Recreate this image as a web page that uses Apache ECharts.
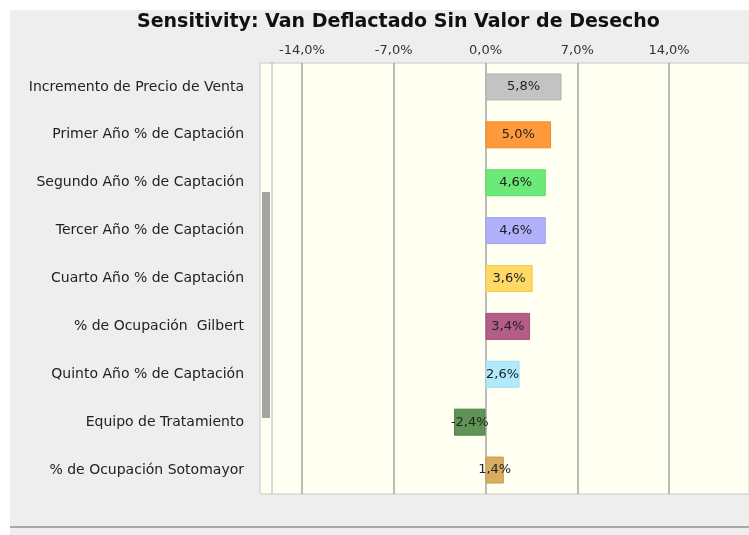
<!DOCTYPE html>
<html>
<head>
<meta charset="utf-8">
<script src="https://cdn.jsdelivr.net/npm/echarts@6/dist/echarts.min.js"></script>
<style>
html,body{margin:0;padding:0;background:#ffffff;}
#chart{width:749px;height:535px;}
</style>
</head>
<body>
<div id="chart"></div>
<script>
const titleText = 'Sensitivity: Van Deflactado Sin Valor de Desecho';
const categories = [
  'Incremento de Precio de Venta',
  'Primer Año % de Captación',
  'Segundo Año % de Captación',
  'Tercer Año % de Captación',
  'Cuarto Año % de Captación',
  '% de Ocupación  Gilbert',
  'Quinto Año % de Captación',
  'Equipo de Tratamiento',
  '% de Ocupación Sotomayor'
];
const values = [5.8, 5.0, 4.6, 4.6, 3.6, 3.4, 2.6, -2.4, 1.4];
const tickValues = [-14, -7, 0, 7, 14];

const barColors = ['#c3c3c3', '#ff9a3c', '#6bea78', '#b0b0fb', '#ffd966', '#b35d87', '#b0eafc', '#5f9456', '#d8ad62'];
const barBorders = ['#b2b2b2', '#f08a2c', '#5cdc6a', '#a0a0ee', '#f2cb55', '#a24f78', '#9fdcee', '#507f48', '#c99d52'];

const fmt = v => v.toFixed(1).replace('.', ',') + '%';
const FONT = '"DejaVu Sans", Verdana, sans-serif';

const chart = echarts.init(document.getElementById('chart'), null, {renderer: 'canvas'});
chart.setOption({
  backgroundColor: '#eeeeee',
  animation: false,
  title: {
    text: titleText,
    left: 132,
    top: 8,
    textStyle: {fontFamily: FONT, fontSize: 19, fontWeight: 'bold', color: '#111'}
  },
  graphic: [
    {type: 'rect', left: 0, top: 0, shape: {width: 749, height: 10}, style: {fill: '#ffffff'}, z: -1},
    {type: 'rect', left: 0, top: 0, shape: {width: 10, height: 535}, style: {fill: '#ffffff'}, z: -1},
    {type: 'rect', left: 10, top: 526, shape: {width: 739, height: 2}, style: {fill: '#a8a8a8'}, z: -1},
    {type: 'line', shape: {x1: 272, y1: 62, x2: 272, y2: 494}, style: {stroke: '#b8b8b8', lineWidth: 1}, z: 10},
    {type: 'rect', shape: {x: 262, y: 192, width: 8, height: 226}, style: {fill: '#a4a4a4'}, z: 10}
  ],
  grid: {
    left: 260, right: 0, top: 63, bottom: 41,
    show: true, backgroundColor: '#fffff2', borderColor: '#c8c8c8', borderWidth: 1
  },
  xAxis: {
    type: 'value',
    position: 'top',
    min: -17.2,
    max: 20.1,
    axisLine: {show: false},
    axisTick: {show: false, customValues: tickValues},
    axisLabel: {
      customValues: tickValues,
      formatter: v => fmt(v),
      fontFamily: FONT, fontSize: 13, color: '#333', margin: 6
    },
    splitLine: {show: true, lineStyle: {color: '#a4a4a4', width: 1.5}}
  },
  yAxis: {
    type: 'category',
    inverse: true,
    data: categories,
    axisLine: {show: false},
    axisTick: {show: false},
    axisLabel: {fontFamily: FONT, fontSize: 14, color: '#222', margin: 16}
  },
  series: [{
    type: 'bar',
    barWidth: 27,
    data: values.map((v, i) => ({value: v, itemStyle: {color: barColors[i], borderColor: barBorders[i], borderWidth: 1}})),
    label: {
      show: true,
      position: 'inside',
      formatter: p => fmt(p.value),
      fontFamily: FONT, fontSize: 13, color: '#222'
    },
    z: 5
  }]
});
</script>
</body>
</html>
